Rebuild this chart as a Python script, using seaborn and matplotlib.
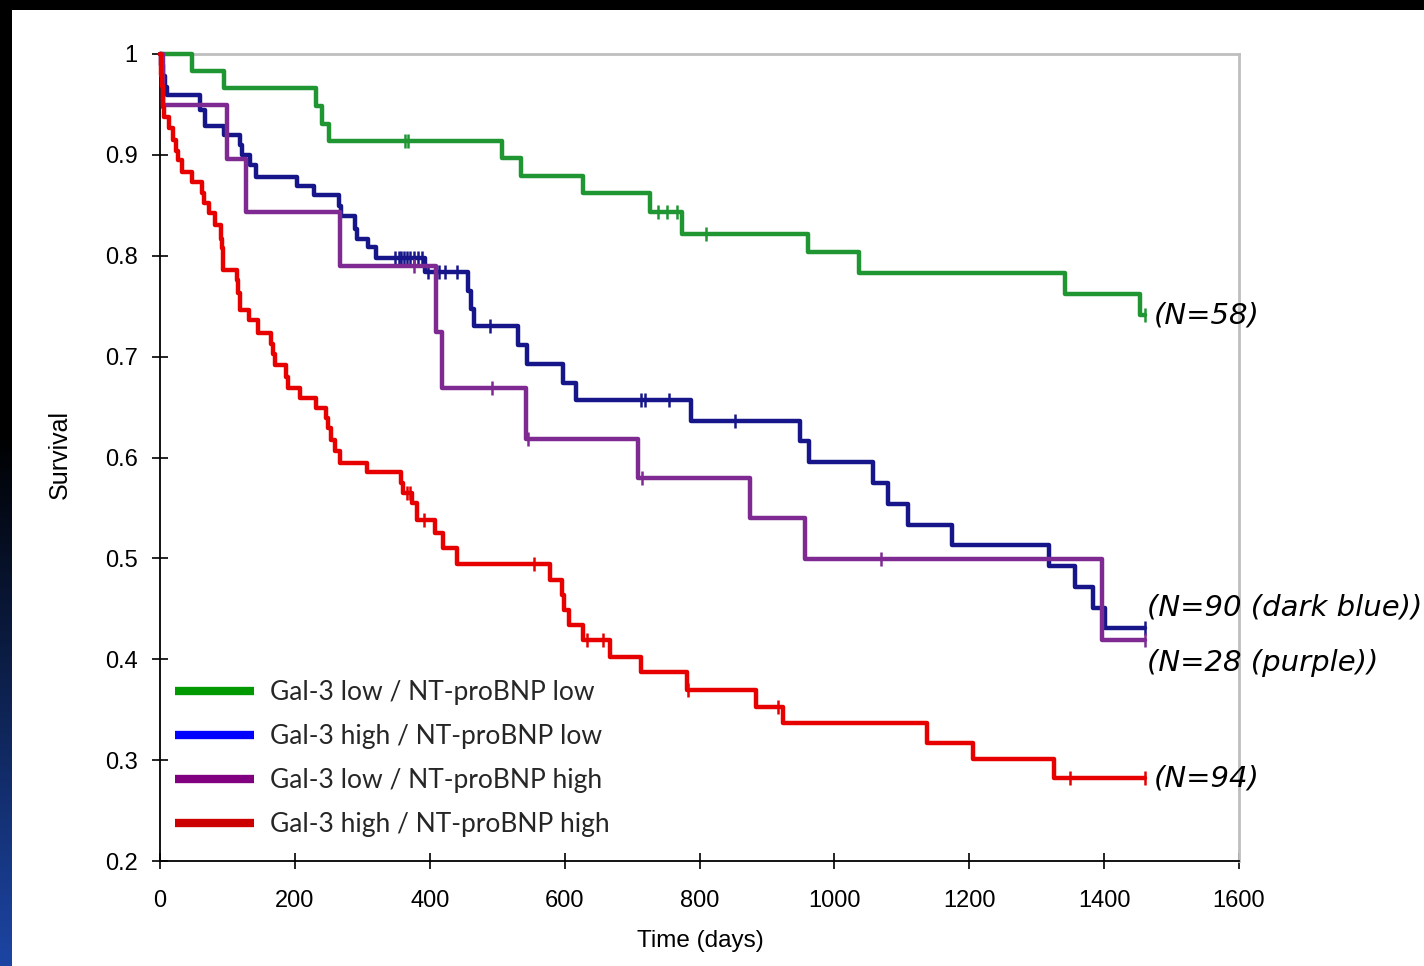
import numpy as np
import pandas as pd
import matplotlib
matplotlib.use('Agg')
import matplotlib.pyplot as plt
import seaborn as sns
from matplotlib.lines import Line2D
from matplotlib.patches import Rectangle

groups = ['Gal-3 low / NT-proBNP low', 'Gal-3 high / NT-proBNP low',
          'Gal-3 low / NT-proBNP high', 'Gal-3 high / NT-proBNP high']

# step times (days) and survival after each step
green_t = [0, 47, 95, 232, 240, 250, 507, 536, 627, 727, 774, 961, 1036, 1342, 1453, 1460]
green_s = [1.0, 0.983, 0.966, 0.948, 0.931, 0.914, 0.897, 0.879, 0.862, 0.843, 0.822,
           0.804, 0.783, 0.762, 0.741, 0.741]
green_cens = [363, 368, 739, 752, 766, 810, 1460]

blue_t = [0, 2, 5, 8, 11, 60, 66, 95, 119, 121, 133, 143, 203, 228, 265, 268, 289, 292,
          309, 321, 393, 457, 461, 466, 531, 544, 598, 617, 787, 949, 962, 1058, 1080,
          1109, 1175, 1318, 1357, 1384, 1401, 1460]
blue_s = [1.0, 0.989, 0.978, 0.967, 0.959, 0.944, 0.929, 0.920, 0.910, 0.900, 0.890, 0.878,
          0.869, 0.860, 0.849, 0.839, 0.827, 0.817, 0.809, 0.798, 0.784, 0.765, 0.747, 0.730,
          0.712, 0.693, 0.674, 0.657, 0.636, 0.616, 0.596, 0.575, 0.554, 0.533, 0.513,
          0.492, 0.472, 0.451, 0.431, 0.431]
blue_cens = [349, 354, 358, 362, 366, 371, 376, 382, 388, 397, 409, 414, 423, 440, 490,
             713, 719, 755, 853, 1460]

purple_t = [0, 5, 99, 127, 267, 410, 418, 543, 709, 875, 956, 1397, 1460]
purple_s = [1.0, 0.949, 0.896, 0.843, 0.790, 0.724, 0.669, 0.618, 0.580, 0.540, 0.499,
            0.419, 0.419]
purple_cens = [377, 493, 545, 714, 1069, 1460]

red_t = [0, 1, 2, 3, 4, 5, 6, 14, 20, 24, 26, 32, 47, 62, 65, 73, 82, 90, 92, 93, 94,
         114, 116, 118, 132, 146, 165, 167, 171, 187, 190, 208, 232, 246, 249, 253, 260,
         267, 307, 357, 361, 373, 381, 408, 420, 441, 578, 596, 599, 606, 627, 668, 713,
         781, 884, 924, 1138, 1205, 1326, 1460]
red_s = [1.0, 0.989, 0.979, 0.968, 0.957, 0.947, 0.938, 0.927, 0.915, 0.904, 0.895, 0.883,
         0.873, 0.862, 0.852, 0.842, 0.830, 0.817, 0.808, 0.798, 0.786, 0.776, 0.763, 0.746,
         0.736, 0.723, 0.713, 0.703, 0.692, 0.680, 0.669, 0.659, 0.649, 0.639, 0.629, 0.617,
         0.606, 0.595, 0.586, 0.575, 0.565, 0.555, 0.538, 0.525, 0.510, 0.494, 0.479, 0.464,
         0.449, 0.434, 0.419, 0.402, 0.387, 0.370, 0.353, 0.337, 0.317, 0.301, 0.282, 0.282]
red_cens = [366, 371, 391, 555, 633, 657, 783, 916, 1350, 1460]

n_labels = ['(N=58)', '(N=90 (dark blue))', '(N=28 (purple))', '(N=94)']
n_label_pos = [(1474, 0.741), (1464, 0.451), (1464, 0.396), (1474, 0.282)]

line_colors = ['#1f9632', '#16168a', '#7f2a92', '#e60000']
legend_colors = ['#009900', '#0000ff', '#800080', '#cc0000']

sns.set_theme(style='white')
plt.rcParams['font.family'] = ['Liberation Sans', 'DejaVu Sans']

fig = plt.figure(figsize=(14.24, 9.66), dpi=100)
fig.set_facecolor('black')
# white slide area
fig.patches.append(Rectangle((12 / 1424, 0), 1, 1 - 10 / 966, transform=fig.transFigure,
                             facecolor='white', edgecolor='none', zorder=-10))
# left blue gradient strip
gax = fig.add_axes([0, 0, 12 / 1424, 1])
grad = np.clip((np.linspace(0, 1, 300) - 0.45) / 0.55, 0, 1)[:, None]
rgb = np.dstack([grad * 0.11, grad * 0.27, grad * 0.64])
gax.imshow(rgb, aspect='auto', extent=[0, 1, 1, 0])
gax.axis('off')

ax = fig.add_axes([160 / 1424, 1 - 861 / 966, 1079 / 1424, 807 / 966])
ax.set_facecolor('white')

series = [(green_t, green_s, green_cens), (blue_t, blue_s, blue_cens),
          (purple_t, purple_s, purple_cens), (red_t, red_s, red_cens)]
frames = []
for g, (t, s, c) in zip(groups, series):
    frames.append(pd.DataFrame({'time': t, 'surv': s, 'group': g}))
df = pd.concat(frames, ignore_index=True)

pal = dict(zip(groups, line_colors))
draw_order = [3, 0, 1, 2]
for i in draw_order:
    g = groups[i]
    sns.lineplot(data=df[df.group == g], x='time', y='surv', color=pal[g],
                 drawstyle='steps-post', linewidth=3.2, estimator=None, legend=False,
                 ax=ax, clip_on=False, zorder=3 + i)
    t, s, c = series[i]
    idx = np.searchsorted(t, c, side='right') - 1
    lev = np.array(s)[idx]
    ax.plot(c, lev, linestyle='none', marker='|', markersize=10, markeredgewidth=1.8,
            color=pal[g], clip_on=False, zorder=3 + i)

ax.set_xlim(0, 1600)
ax.set_ylim(0.2, 1.0)
ax.set_xticks(np.arange(0, 1601, 200))
ax.set_yticks(np.arange(0.2, 1.01, 0.1))
ax.set_yticklabels(['0.2', '0.3', '0.4', '0.5', '0.6', '0.7', '0.8', '0.9', '1'])
ax.tick_params(direction='inout', length=12, width=1.2, colors='black', labelsize=17,
               bottom=True, left=True)
ax.tick_params(axis='y', pad=10)
ax.tick_params(axis='x', pad=15)
for side in ['left', 'bottom']:
    ax.spines[side].set_color('black')
    ax.spines[side].set_linewidth(1.3)
for side in ['top', 'right']:
    ax.spines[side].set_color('#bfbfbf')
    ax.spines[side].set_linewidth(2)

ax.set_xlabel('Time (days)', fontsize=17.5, color='black')
ax.set_ylabel('Survival', fontsize=18, color='black')
ax.xaxis.set_label_coords((700 - 160) / 1079, -(930 - 861) / 807)
ax.yaxis.set_label_coords(-(160 - 72) / 1079, (861 - 455) / 807)

for lab, (x, y) in zip(n_labels, n_label_pos):
    ax.text(x, y, lab, fontsize=21, style='italic', family='DejaVu Sans', color='black',
            va='center', ha='left', clip_on=False)

handles = [Line2D([0], [0], color=c, linewidth=6, solid_capstyle='butt') for c in legend_colors]
leg = ax.legend(handles, groups, loc='upper left', bbox_to_anchor=(175 / 1424, 1 - 680 / 966),
                bbox_transform=fig.transFigure, frameon=False, borderpad=0, borderaxespad=0,
                handlelength=3.0, handletextpad=0.6, labelspacing=0.72,
                prop={'family': 'Lato', 'size': 19})

fig.savefig('out.png', dpi=100, facecolor=fig.get_facecolor())
